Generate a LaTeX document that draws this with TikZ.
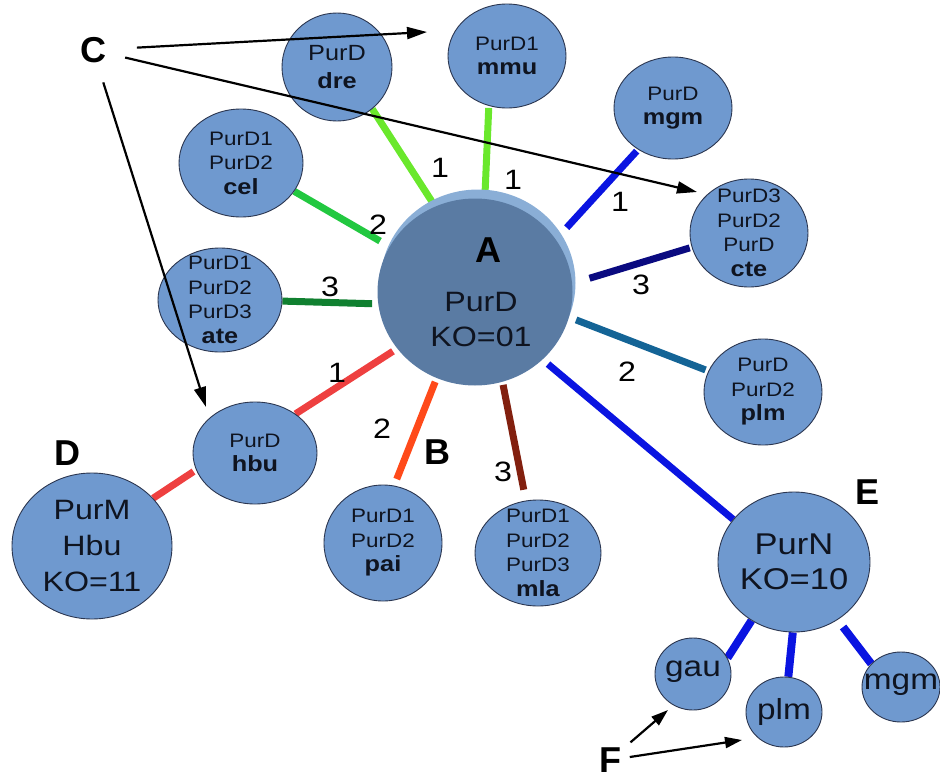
\documentclass[tikz,border=0pt]{standalone}
\usepackage{fontspec}
\setmainfont{Liberation Sans}
\newfontfamily\wide[FakeStretch=1.15]{Liberation Sans}
\usetikzlibrary{shapes.geometric,arrows.meta}
\pgfdeclarelayer{background}
\pgfsetlayers{background,main}

\definecolor{nodefill}{HTML}{6F99CF}
\definecolor{nodeline}{HTML}{2B3650}
\definecolor{disc}{HTML}{5A7BA3}
\definecolor{discrim}{HTML}{8AAED6}
\definecolor{inktext}{HTML}{0F1420}
\definecolor{edgelime}{HTML}{6AE82C}
\definecolor{edgegrass}{HTML}{22C840}
\definecolor{edgeforest}{HTML}{108030}
\definecolor{edgeroyal}{HTML}{0A14E1}
\definecolor{edgenavy}{HTML}{0A0A80}
\definecolor{edgeteal}{HTML}{146496}
\definecolor{edgered}{HTML}{EE4040}
\definecolor{edgeflame}{HTML}{FF4A1A}
\definecolor{edgerust}{HTML}{82200F}

\newcommand\species[1]{{\bfseries\fontsize{22}{26}\selectfont #1}}

\begin{document}
\begin{tikzpicture}[x=1pt,y=-1pt,
  bubble/.style={ellipse, draw=nodeline, line width=0.9pt, fill=nodefill, inner sep=0pt},
  bubbletext/.style={align=center, inner sep=0pt, text=inktext,
    font=\wide\fontsize{19.5}{24.5}\selectfont},
  bigtext/.style={align=center, inner sep=0pt, text=inktext},
  edge/.style={line width=7pt},
  subedge/.style={line width=8pt, edgeroyal},
  pointer/.style={line width=2.2pt, -{Triangle[length=20pt,width=12pt]}},
  tag/.style={font=\bfseries\fontsize{36}{36}\selectfont, inner sep=0pt},
  count/.style={font=\wide\fontsize{28}{28}\selectfont, inner sep=0pt},
]
\useasboundingbox (0,0) rectangle (940,779);

% central PurD disc with its raised rim
\node[ellipse, fill=discrim, minimum width=195, minimum height=187, inner sep=0pt] (Arim) at (478,283) {};
\node[ellipse, fill=disc, minimum width=195, minimum height=187, inner sep=0pt] (A) at (475,292) {};
\node[bigtext, font=\wide\fontsize{28}{35}\selectfont] (A-t) at (481,320) {PurD\\KO=01};

% species bubbles around PurD
\node[bubble, minimum width=110, minimum height=108] (dre) at (337,67) {};
\node[bubbletext, font=\wide\fontsize{22}{28}\selectfont] (dre-t) at (dre) {PurD\\\species{dre}};

\node[bubble, minimum width=118, minimum height=104] (mmu) at (507,56) {};
\node[bubbletext] (mmu-t) at (mmu) {PurD1\\\species{mmu}};

\node[bubble, minimum width=118, minimum height=102] (mgm1) at (673,108) {};
\node[bubbletext] (mgm1-t) at (mgm1) {PurD\\\species{mgm}};

\node[bubble, minimum width=118, minimum height=108] (cte) at (749,233) {};
\node[bubbletext] (cte-t) at (cte) {PurD3\\PurD2\\PurD\\\species{cte}};

\node[bubble, minimum width=124, minimum height=108] (cel) at (241,163) {};
\node[bubbletext] (cel-t) at (cel) {PurD1\\PurD2\\\species{cel}};

\node[bubble, minimum width=124, minimum height=104] (ate) at (220,300) {};
\node[bubbletext] (ate-t) at (ate) {PurD1\\PurD2\\PurD3\\\species{ate}};

\node[bubble, minimum width=124, minimum height=102] (hbu) at (255,453) {};
\node[bubbletext] (hbu-t) at (hbu) {PurD\\\species{hbu}};

\node[bubble, minimum width=118, minimum height=116] (pai) at (383,543) {};
\node[bubbletext] (pai-t) at (pai) {PurD1\\PurD2\\\species{pai}};

\node[bubble, minimum width=126, minimum height=106] (mla) at (538,553) {};
\node[bubbletext] (mla-t) at (mla) {PurD1\\PurD2\\PurD3\\\species{mla}};

\node[bubble, minimum width=118, minimum height=106] (plm1) at (763,392) {};
\node[bubbletext] (plm1-t) at (plm1) {PurD\\PurD2\\\species{plm}};

% knock-out partners
\node[bubble, minimum width=160, minimum height=146] (PurM) at (92,546) {};
\node[bigtext, font=\wide\fontsize{28}{36}\selectfont] (PurM-t) at (PurM) {PurM\\Hbu\\KO=11};

\node[bubble, minimum width=152, minimum height=140] (PurN) at (794,562) {};
\node[bigtext, font=\wide\fontsize{30}{35}\selectfont] (PurN-t) at (PurN) {PurN\\KO=10};

\node[bubble, minimum width=76, minimum height=72] (gau) at (693,674) {};
\node[bigtext, font=\wide\fontsize{29}{29}\selectfont] (gau-t) at (693,672) {gau};
\node[bubble, minimum width=76, minimum height=70] (plm2) at (784,712) {};
\node[bigtext, font=\wide\fontsize{29}{29}\selectfont] (plm2-t) at (784,712) {plm};
\node[bubble, minimum width=78, minimum height=70] (mgm2) at (901,687) {};
\node[bigtext, font=\wide\fontsize{29}{29}\selectfont] (mgm2-t) at (901,685) {mgm};

% connectors, kept behind the bubbles
\begin{pgfonlayer}{background}
\draw[edge, edgelime, shorten <=6] (A.115.6) -- (dre.-50);
\draw[edge, edgelime, shorten >=2] (A.84.3) -- (mmu.-110);
\draw[edge, edgegrass, shorten <=11] (A.152.2) -- (cel.-28.2);
\draw[edge, edgeforest, shorten <=6] (A.187.9) -- (ate.-1.8);
\draw[edge, edgeroyal, shorten <=16, shorten >=2] (A.33.4) -- (mgm1.-130.2);
\draw[edge, edgenavy, shorten <=18, shorten >=2] (A.5) -- (cte.194.3);
\draw[edge, edgeteal, shorten <=7.5, shorten >=3] (A.-15.1) -- (plm1.159.9);
\draw[edge, edgeroyal, shorten <=7] (A.-45.8) -- (PurN.145.9);
\draw[edge, edgered, shorten <=5] (A.216.5) -- (hbu.44.3);
\draw[edge, edgered, shorten <=3] (hbu.196.8) -- (PurM.38.7);
\draw[edge, edgeflame, shorten <=4, shorten >=7] (A.246.3) -- (pai.79.5);
\draw[edge, edgerust, shorten <=3, shorten >=11] (A.287.9) -- (mla.103.4);
\draw[subedge] (PurN.234.1) -- (gau.25.9);
\draw[subedge] (PurN.269) -- (plm2.83.5);
\draw[subedge, shorten <=9] (PurN.-53) -- (mgm2.142.8);
\end{pgfonlayer}

% edge counts
\node[count] (n-dre) at (440,168) {1};
\node[count] (n-mmu) at (513,180) {1};
\node[count] (n-mgm) at (620,202) {1};
\node[count] (n-cel) at (378,225) {2};
\node[count] (n-ate) at (330,287) {3};
\node[count] (n-cte) at (641,285) {3};
\node[count] (n-plm) at (627,372) {2};
\node[count] (n-hbu) at (337,373) {1};
\node[count] (n-pai) at (382,429) {2};
\node[count] (n-mla) at (503,472) {3};

% letter tags
\node[tag] (tagA) at (488,250) {A};
\node[tag] (B) at (437,452) {B};
\node[tag] (C) at (93,50) {C};
\node[tag] (D) at (67,453) {D};
\node[tag] (E) at (867,492) {E};
\node[tag] (F) at (610,760) {F};

% pointer arrows
\coordinate (tip-mmu) at (427,32);
\coordinate (tip-cte) at (697,192);
\coordinate (tip-hbu) at (206,407);
\coordinate (tip-gau) at (668,710);
\coordinate (tip-plm) at (742,740);
\draw[pointer, shorten <=44] (C.center) -- (tip-mmu);
\draw[pointer, shorten <=33] (C.center) -- (tip-cte);
\draw[pointer, shorten <=34] (C.center) -- (tip-hbu);
\draw[pointer, -{Triangle[length=17pt,width=11pt]}, shorten <=27] (F.center) -- (tip-gau);
\draw[pointer, -{Triangle[length=17pt,width=11pt]}, shorten <=20] (F.center) -- (tip-plm);
\end{tikzpicture}
\end{document}
